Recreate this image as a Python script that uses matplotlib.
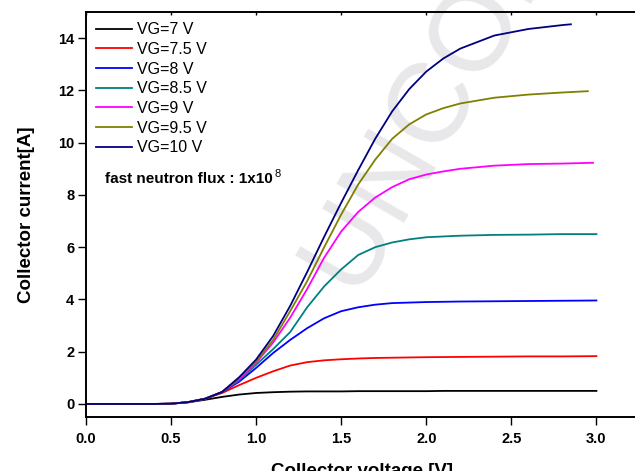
import matplotlib
matplotlib.use("Agg")
import matplotlib.pyplot as plt
from matplotlib import lines as mlines

plt.rcParams["font.family"] = ["Liberation Sans", "DejaVu Sans"]
plt.rcParams["axes.unicode_minus"] = False

# collector voltage grid (V)
vc = [0.0, 0.2, 0.4, 0.5, 0.6, 0.7, 0.8, 0.9, 1.0, 1.1, 1.2, 1.3, 1.4, 1.5,
      1.6, 1.7, 1.8, 1.9, 2.0, 2.1, 2.2, 2.4, 2.6, 2.8]

# collector current (A) for each gate voltage, last point is the end of the sweep
ic_7 = [0, 0, 0, 0.01, 0.06, 0.16, 0.27, 0.36, 0.42, 0.45, 0.47, 0.48, 0.48,
        0.48, 0.49, 0.49, 0.49, 0.49, 0.49, 0.50, 0.50, 0.50, 0.50, 0.50]
ic_75 = [0, 0, 0, 0.01, 0.07, 0.20, 0.42, 0.72, 1.00, 1.25, 1.47, 1.60, 1.67,
         1.71, 1.74, 1.76, 1.77, 1.78, 1.79, 1.795, 1.80, 1.81, 1.82, 1.82]
ic_8 = [0, 0, 0, 0.01, 0.07, 0.20, 0.45, 0.85, 1.38, 1.95, 2.45, 2.90, 3.28,
        3.55, 3.70, 3.80, 3.86, 3.88, 3.90, 3.91, 3.92, 3.93, 3.94, 3.95]
ic_85 = [0, 0, 0, 0.01, 0.07, 0.20, 0.46, 0.90, 1.50, 2.10, 2.75, 3.70, 4.50,
         5.15, 5.70, 6.00, 6.18, 6.30, 6.38, 6.41, 6.44, 6.47, 6.48, 6.50]
ic_9 = [0, 0, 0, 0.01, 0.07, 0.20, 0.46, 0.95, 1.58, 2.35, 3.30, 4.40, 5.60,
        6.60, 7.35, 7.90, 8.30, 8.60, 8.78, 8.90, 9.00, 9.12, 9.18, 9.20]
ic_95 = [0, 0, 0, 0.01, 0.07, 0.20, 0.46, 1.00, 1.62, 2.45, 3.55, 4.70, 6.00,
         7.25, 8.40, 9.35, 10.15, 10.70, 11.08, 11.32, 11.50, 11.72, 11.84, 11.92]
ic_10 = [0, 0, 0, 0.01, 0.07, 0.20, 0.46, 1.02, 1.70, 2.60, 3.75, 5.05, 6.40,
         7.70, 8.95, 10.15, 11.20, 12.05, 12.72, 13.22, 13.60, 14.10, 14.35, 14.50]

v_end = [3.0, 3.0, 3.0, 3.0, 2.98, 2.95, 2.85]
i_end = [0.50, 1.83, 3.96, 6.50, 9.23, 11.97, 14.53]

labels = ["VG=7 V", "VG=7.5 V", "VG=8 V", "VG=8.5 V", "VG=9 V", "VG=9.5 V", "VG=10 V"]
colors = ["#000000", "#ff0000", "#0000ff", "#008080", "#ff00ff", "#808000", "#000080"]
series = [ic_7, ic_75, ic_8, ic_85, ic_9, ic_95, ic_10]

fig = plt.figure(figsize=(6.35, 4.71), dpi=100)
ax = fig.add_axes([0.1354, 0.1146, 0.8700, 0.8599])
ax.set_facecolor("none")

for ic, ve, ie, lab, col in zip(series, v_end, i_end, labels, colors):
    ax.plot(vc + [ve], ic + [ie], color=col, lw=1.3, label=lab)

ax.set_xlim(0, 3.247)
ax.set_ylim(-0.5, 15)
ax.set_xticks([0.0, 0.5, 1.0, 1.5, 2.0, 2.5, 3.0])
ax.set_yticks([0, 2, 4, 6, 8, 10, 12, 14])
ax.set_xticklabels(["0.0", "0.5", "1.0", "1.5", "2.0", "2.5", "3.0"])

for side in ["left", "bottom", "top", "right"]:
    ax.spines[side].set_linewidth(1.4)
ax.tick_params(axis="both", direction="out", length=5.5, width=1.0, labelsize=10.5)
ax.tick_params(axis="x", pad=5.0, top=True)
ax.tick_params(axis="y", pad=3.0)
for lab in ax.get_xticklabels() + ax.get_yticklabels():
    lab.set_fontweight("bold")
for t in ax.xaxis.get_major_ticks():
    t.tick2line.set_marker(mlines.TICKDOWN)
    t.tick2line.set_markersize(2)

ax.set_xlabel("Collector voltage [V]", fontsize=13.5, fontweight="bold", va="top")
ax.xaxis.set_label_coords(0.5, -0.113)
ax.set_ylabel("Collector current[A]", fontsize=13.5, fontweight="bold")
ax.yaxis.set_label_coords(-0.092, 0.5)

leg = ax.legend(loc="upper left", frameon=False, fontsize=11.5, handlelength=2.25,
                handletextpad=0.3, labelspacing=0.29, borderaxespad=0.45,
                borderpad=0.2)

note = ax.text(0.0344, 0.578, "fast neutron flux : 1x10", transform=ax.transAxes,
               fontsize=11, fontweight="bold", ha="left", va="baseline")
ax.annotate("8", xy=(1.0, 0.62), xycoords=note, xytext=(1.5, 0),
            textcoords="offset points", fontsize=8, ha="left", va="baseline")

# faint watermark behind the curves
fig.text(0.565, 0.359, "UNCORRECTED PROOF", rotation=60, fontsize=82,
         color="#e8e8ea", ha="left", va="baseline", zorder=-1,
         rotation_mode="anchor")

fig.savefig("out.png", dpi=100)
